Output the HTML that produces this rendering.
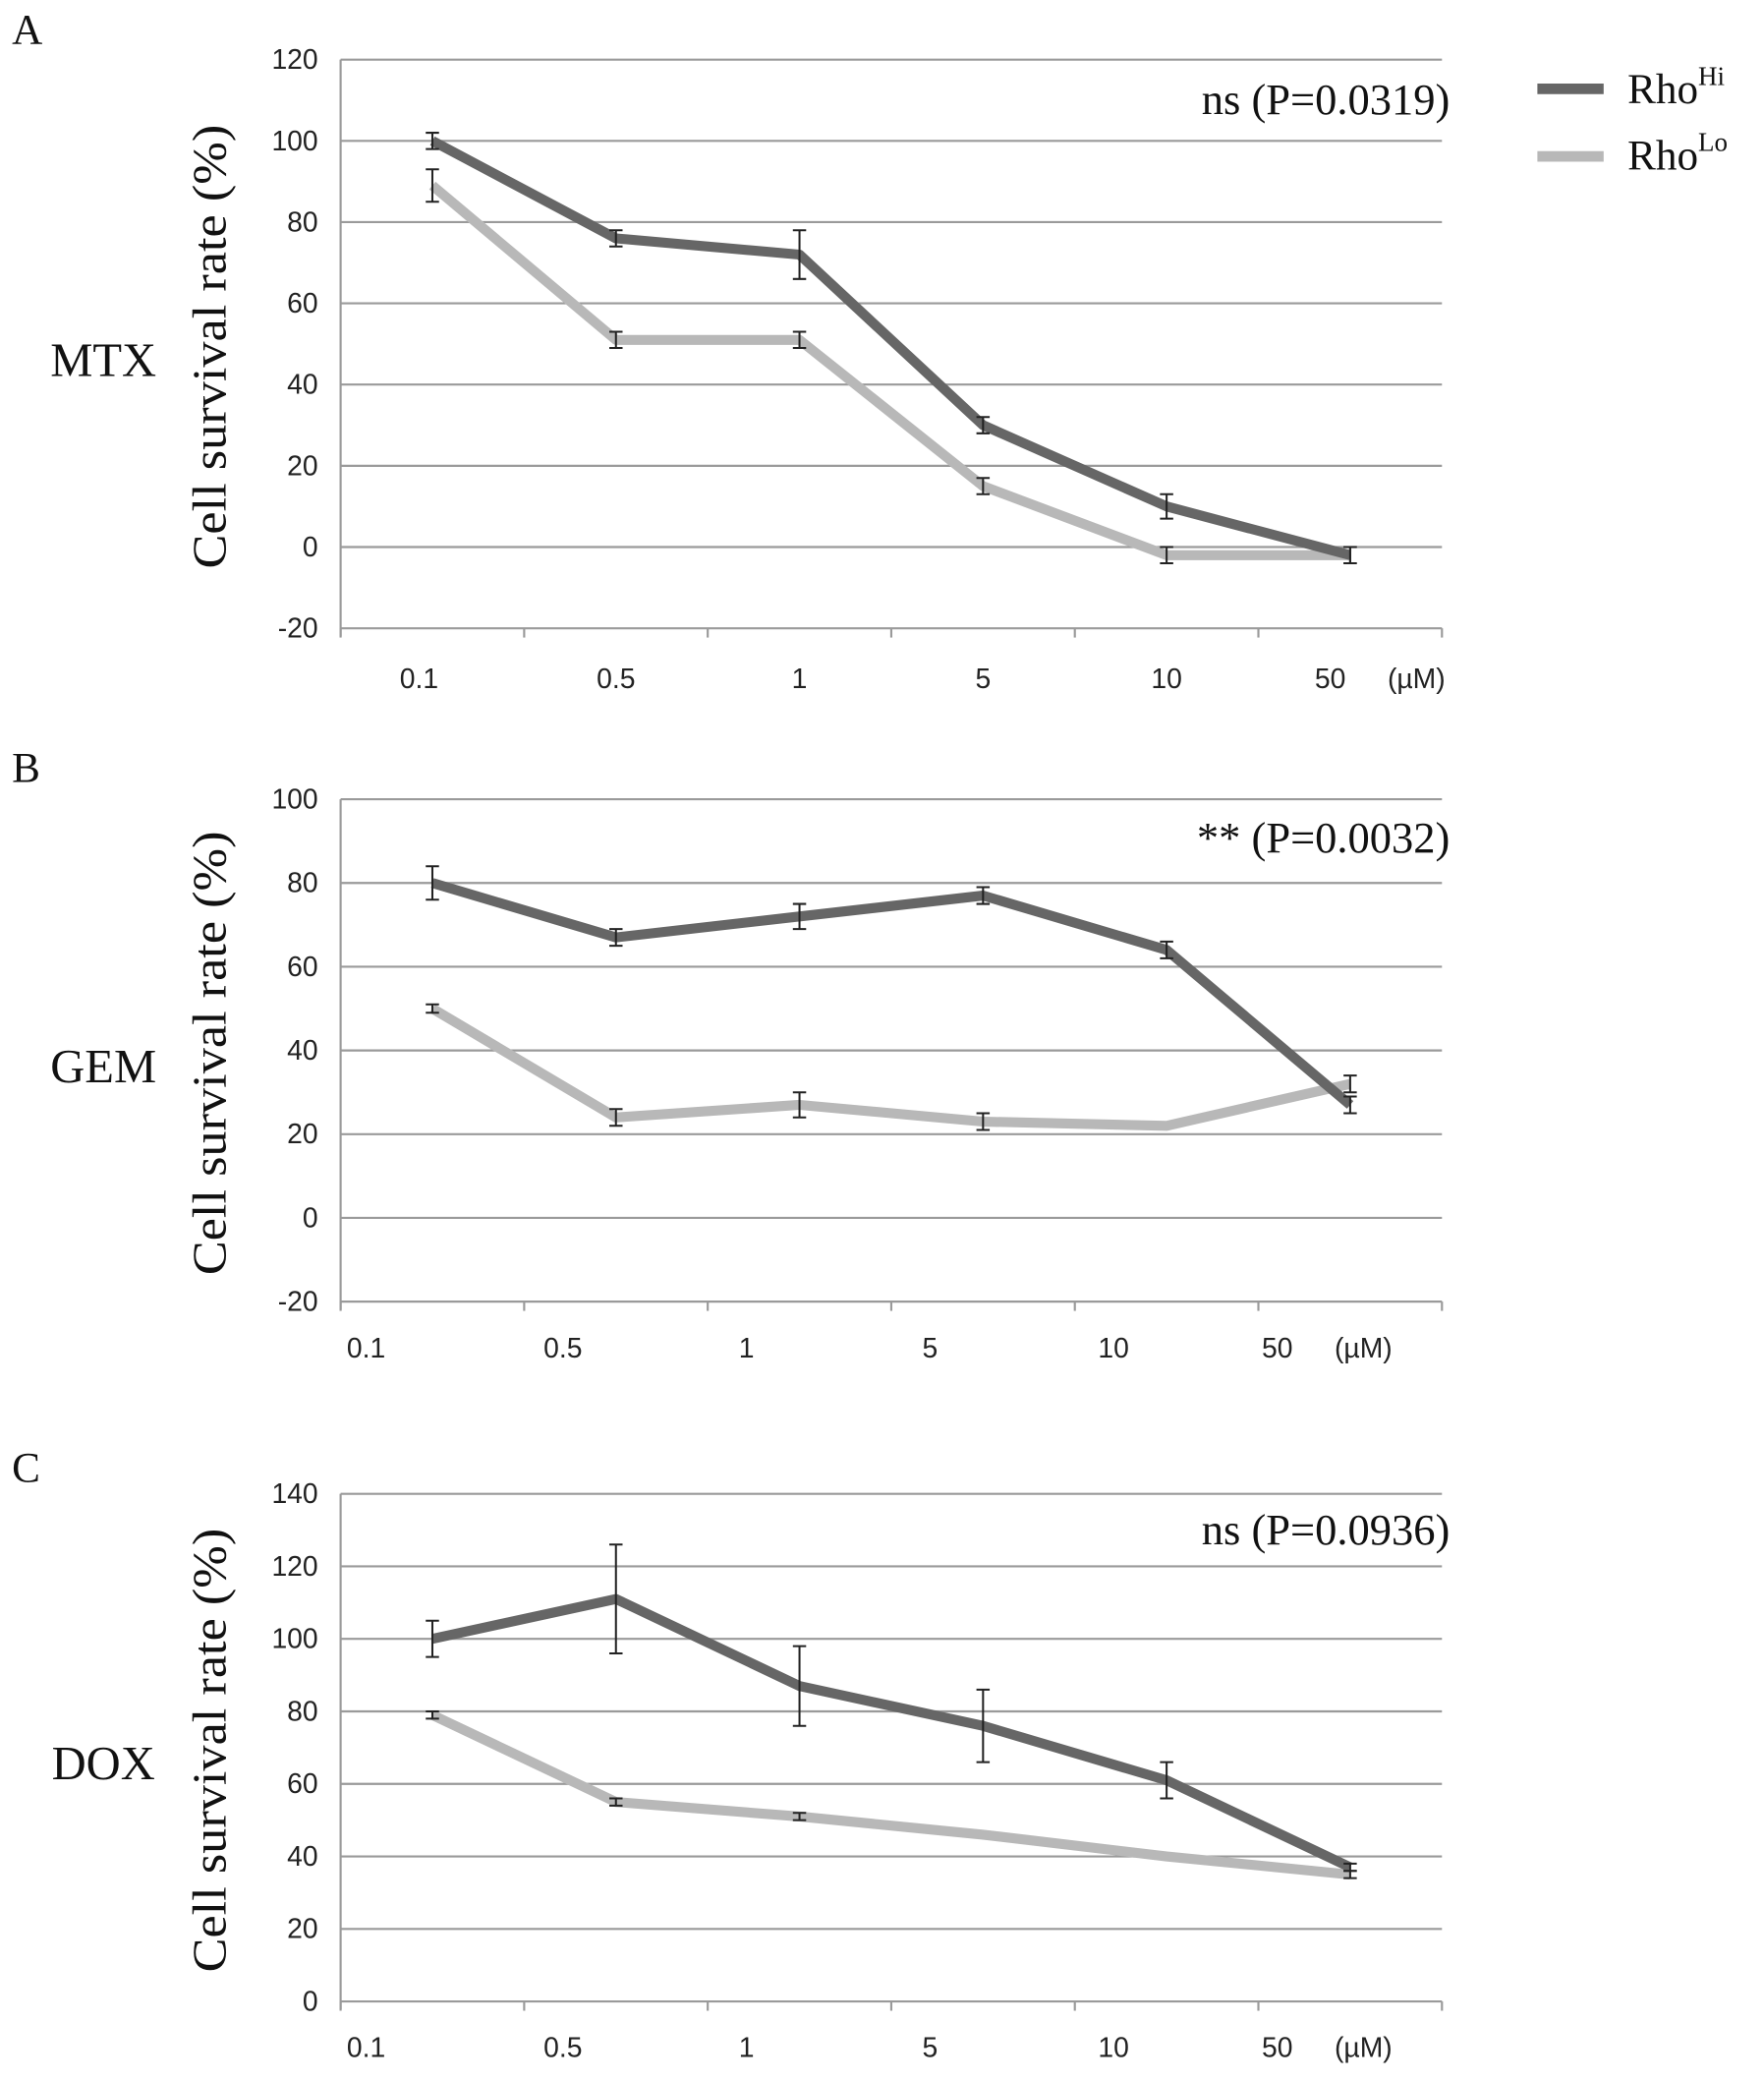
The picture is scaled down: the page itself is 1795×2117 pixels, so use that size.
<!DOCTYPE html>
<html><head><meta charset="utf-8"><style>
html,body{margin:0;padding:0;background:#fff}
svg{display:block}
.tk{font-family:"Liberation Sans",sans-serif;font-size:21px;fill:#222}
.sf{font-family:"Liberation Serif",serif;fill:#111}
</style></head><body>
<svg id="chart" width="1795" height="2117" viewBox="0 0 1331 1570" preserveAspectRatio="none" xmlns="http://www.w3.org/2000/svg">
<g>
<line x1="1160" y1="67" x2="1210" y2="67" stroke="#666" stroke-width="8"/>
<text x="1228" y="78" class="sf" font-size="32">Rho<tspan font-size="20" dy="-14">Hi</tspan></text>
<line x1="1160" y1="118" x2="1210" y2="118" stroke="#b8b8b8" stroke-width="8"/>
<text x="1228" y="128" class="sf" font-size="32">Rho<tspan font-size="20" dy="-14">Lo</tspan></text>
</g>
</svg>
<script>
const categories = ["0.1","0.5","1","5","10","50"];
const mtxHi = [100,76,72,30,10,-2];
const mtxHiErr = [2,2,6,2,3,2];
const mtxLo = [89,51,51,15,-2,-2];
const mtxLoErr = [4,2,2,2,2,2];
const gemHi = [80,67,72,77,64,27];
const gemHiErr = [4,2,3,2,2,2];
const gemLo = [50,24,27,23,22,32];
const gemLoErr = [1,2,3,2,0,2];
const doxHi = [100,111,87,76,61,37];
const doxHiErr = [5,15,11,10,5,1];
const doxLo = [79,55,51,46,40,35];
const doxLoErr = [1,1,1,0,0,1];
const mtxTicks = [120,100,80,60,40,20,0,-20];
const gemTicks = [100,80,60,40,20,0,-20];
const doxTicks = [140,120,100,80,60,40,20,0];

const NS="http://www.w3.org/2000/svg";
const svg=document.getElementById('chart');
function mk(tag,attrs,parent){const e=document.createElementNS(NS,tag);for(const k in attrs)e.setAttribute(k,attrs[k]);(parent||svg).appendChild(e);return e;}

const panels=[
 {id:'mtx',letter:'A',drug:'MTX',ticks:mtxTicks,hi:mtxHi,hiE:mtxHiErr,lo:mtxLo,loE:mtxLoErr,top:45,bot:474,ann:'ns (P=0.0319)',annY:86,lblY:519,lblOff:0,letterY:33},
 {id:'gem',letter:'B',drug:'GEM',ticks:gemTicks,hi:gemHi,hiE:gemHiErr,lo:gemLo,loE:gemLoErr,top:603,bot:982,ann:'** (P=0.0032)',annY:643,lblY:1024,lblOff:-40,letterY:590},
 {id:'dox',letter:'C',drug:'DOX',ticks:doxTicks,hi:doxHi,hiE:doxHiErr,lo:doxLo,loE:doxLoErr,top:1127,bot:1510,ann:'ns (P=0.0936)',annY:1165,lblY:1552,lblOff:-40,letterY:1118}
];
const L=257,R=1088;
panels.forEach(p=>{
 const g=mk('g',{});
 
 
 const tmax=p.ticks[0],tmin=p.ticks[p.ticks.length-1];
 const y=v=>p.bot-(v-tmin)/(tmax-tmin)*(p.bot-p.top);
 const cw=(R-L)/categories.length;
 const x=i=>L+cw*(i+0.5);
 p.ticks.forEach(t=>{
  const gl=mk('line',{x1:L,x2:R,y1:y(t),y2:y(t),stroke:'#9a9a9a','stroke-width':1.6},g);
  
  
  const tl=mk('text',{x:240,y:y(t)+7,'text-anchor':'end',class:'tk'},g);
  tl.textContent=t;
  
  
 });
 const ax=mk('line',{x1:L,x2:L,y1:p.top,y2:p.bot+6,stroke:'#9a9a9a','stroke-width':1.6},g);
 
 
 for(let i=0;i<=categories.length;i++){
  const tm=mk('line',{x1:L+cw*i,x2:L+cw*i,y1:p.bot,y2:p.bot+7,stroke:'#9a9a9a','stroke-width':1.6},g);
  
  
 }
 categories.forEach((c,i)=>{
  const xl=mk('text',{x:x(i)+p.lblOff-(i===0?10:(i===5?15:0)),y:p.lblY,'text-anchor':'middle',class:'tk'},g);
  xl.textContent=c;
  
  
 });
 const u=mk('text',{x:x(5)+p.lblOff+50,y:p.lblY,'text-anchor':'middle',class:'tk'},g);
 u.textContent='(µM)';
 
 
 [[p.lo,p.loE,'#b8b8b8','rholo'],[p.hi,p.hiE,'#666','rhohi']].forEach(([vals,errs,col,nm])=>{
  const ln=mk('polyline',{points:vals.map((v,i)=>x(i)+','+y(v)).join(' '),fill:'none',stroke:col,'stroke-width':7.5,'stroke-linejoin':'round'},g);
  
  
  vals.forEach((v,i)=>{
   if(!errs[i])return;
   const eb=mk('path',{d:`M${x(i)},${y(v+errs[i])}V${y(v-errs[i])}M${x(i)-5},${y(v+errs[i])}h10M${x(i)-5},${y(v-errs[i])}h10`,stroke:'#222','stroke-width':1.5,fill:'none'},g);
   
   
  });
 });
 const yt=mk('text',{x:0,y:0,class:'sf','font-size':36,'text-anchor':'middle',textLength:335,lengthAdjust:'spacingAndGlyphs',transform:`translate(170,${(p.top+p.bot)/2+2}) rotate(-90)`},g);
 yt.textContent='Cell survival rate (%)';
 
 
 const dl=mk('text',{x:78,y:(p.top+p.bot)/2+24,class:'sf','font-size':36,'text-anchor':'middle'},g);
 dl.textContent=p.drug;
 
 
 const pl=mk('text',{x:9,y:p.letterY,class:'sf','font-size':32},g);
 pl.textContent=p.letter;
 
 
 const an=mk('text',{x:1094,y:p.annY,class:'sf','font-size':33,'text-anchor':'end'},g);
 an.textContent=p.ann;
 
 
});
</script>
</body></html>
